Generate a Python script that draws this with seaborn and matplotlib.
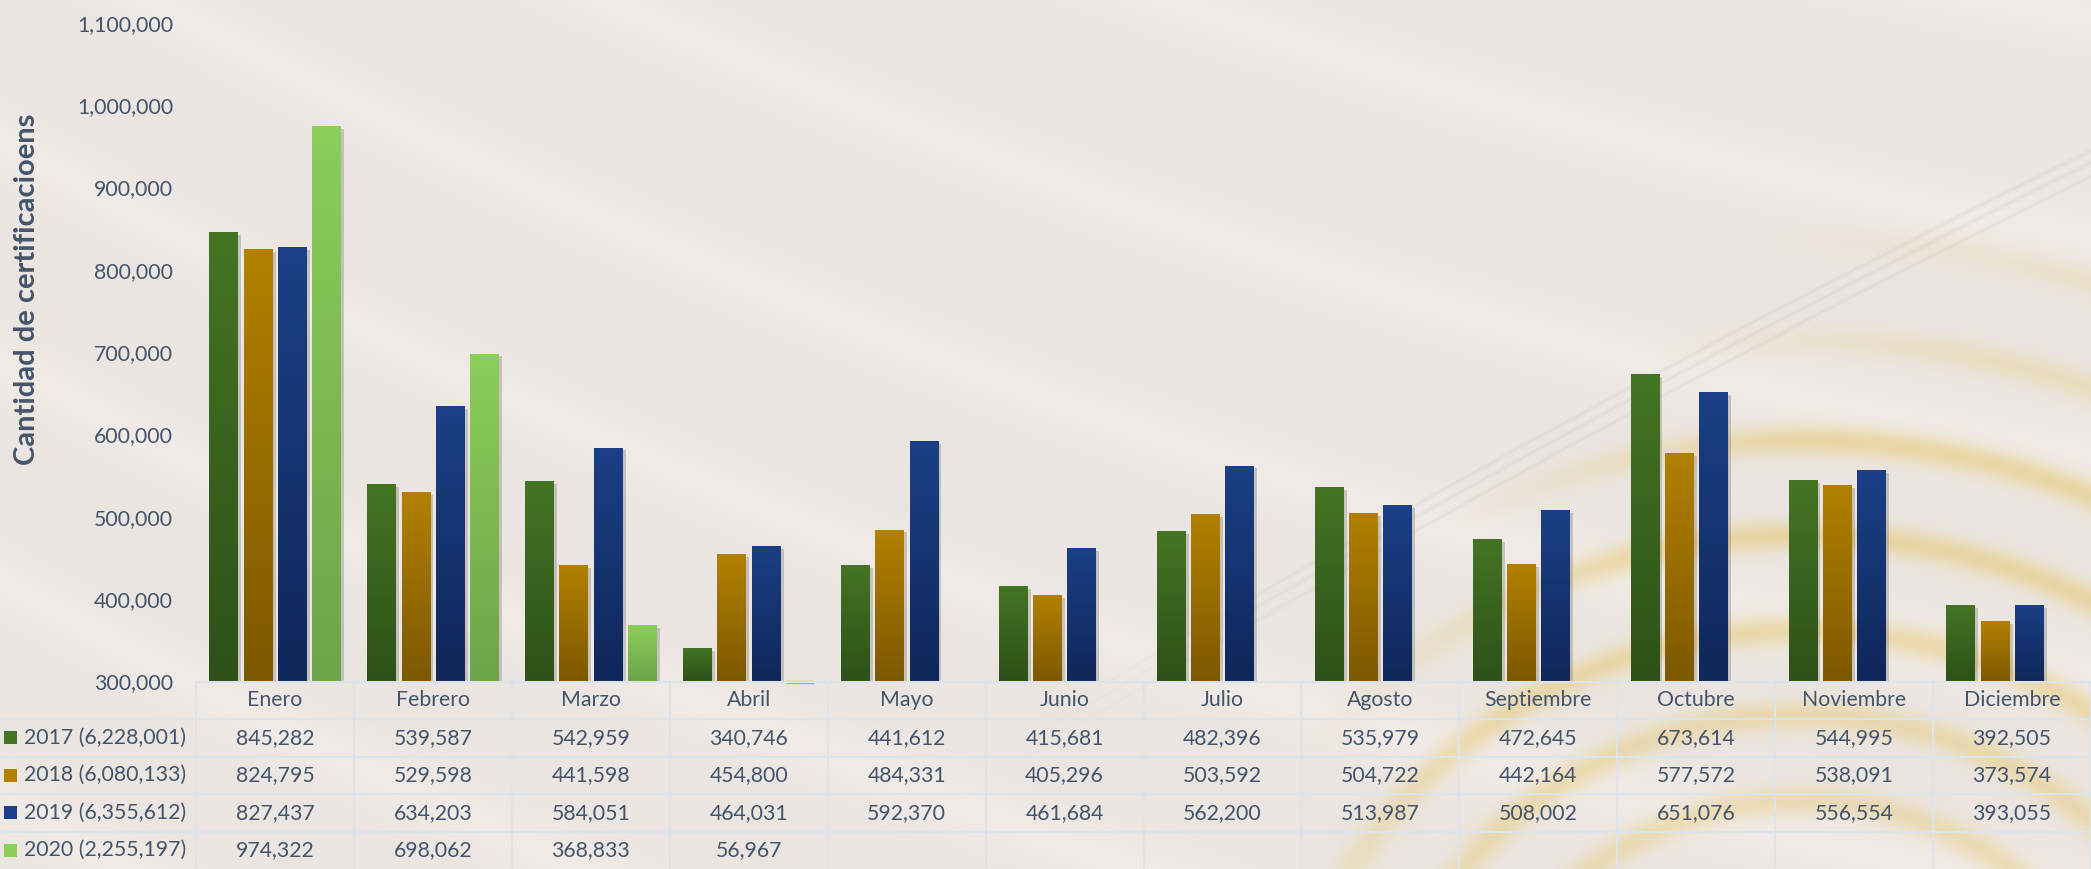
import numpy as np
import pandas as pd
import seaborn as sns
import matplotlib.pyplot as plt
from matplotlib import patheffects as pe
from matplotlib.colors import LinearSegmentedColormap
from matplotlib.patches import Rectangle
from matplotlib.transforms import blended_transform_factory

# datos
meses = ["Enero", "Febrero", "Marzo", "Abril", "Mayo", "Junio", "Julio",
         "Agosto", "Septiembre", "Octubre", "Noviembre", "Diciembre"]
anios = ["2017", "2018", "2019", "2020"]
totales = ["6,228,001", "6,080,133", "6,355,612", "2,255,197"]
v2017 = [845282, 539587, 542959, 340746, 441612, 415681, 482396, 535979, 472645, 673614, 544995, 392505]
v2018 = [824795, 529598, 441598, 454800, 484331, 405296, 503592, 504722, 442164, 577572, 538091, 373574]
v2019 = [827437, 634203, 584051, 464031, 592370, 461684, 562200, 513987, 508002, 651076, 556554, 393055]
v2020 = [974322, 698062, 368833, 56967]
yticks = list(range(300000, 1100001, 100000))

# colores (arriba, abajo) del degradado
colores = {"2017": ("#447524", "#2d5118"),
           "2018": ("#b38100", "#7c5800"),
           "2019": ("#1b4086", "#0f275a"),
           "2020": ("#8bce5a", "#6ea449")}
texto = "#44546a"
linea = "#dce3ea"

sns.set_style("white")
plt.rcParams["font.family"] = ["Lato", "DejaVu Sans"]

W, H = 2091, 869
fig = plt.figure(figsize=(W / 100, H / 100), dpi=100)

# fondo beige con franjas claras y curvas doradas
bg = fig.add_axes([0, 0, 1, 1], zorder=0)
yy, xx = np.mgrid[0:H, 0:W].astype(float)
img = np.ones((H, W, 3)) * np.array([234, 229, 225]) / 255
luz = np.zeros((H, W))
for b in [-740, -520, -300, -80, 140, 360, 580, 800]:
    yc = b + 0.55 * xx - 0.00009 * xx ** 2
    luz += np.exp(-((yy - yc) / 38) ** 2)
img = img + 0.022 * np.clip(luz, 0, 1)[..., None]
# curvas doradas abajo a la derecha
oro = np.zeros((H, W))
d = np.sqrt(((xx - 1800) / 1.1) ** 2 + (yy - 1100) ** 2)
for r, a, x_ini in [(860, 0.25, 1750), (760, 0.35, 1650), (660, 0.6, 1450),
                    (565, 0.6, 1300), (470, 0.55, 1150), (385, 0.5, 1150), (300, 0.45, 1150)]:
    oro += a * np.exp(-((d - r) / 15) ** 2) * np.clip((xx - x_ini) / 350, 0, 1)
oro = np.clip(oro, 0, 0.65)
dorado = np.array([232, 203, 125]) / 255
img = img * (1 - oro[..., None]) + dorado * oro[..., None]
# lineas grises finas
gris = np.zeros((H, W))
for off in [0, 12, 26]:
    yc = 297 + off - 0.52 * (xx - 1800) + 0.00005 * (xx - 1800) ** 2
    gris += np.exp(-((yy - yc) / 2.0) ** 2)
gris = np.clip(gris, 0, 1) * np.clip((xx - 1000) / 350, 0, 1) * 0.10
img = img * (1 - gris[..., None]) + 0.55 * gris[..., None]
bg.imshow(np.clip(img, 0, 1), extent=[0, W, H, 0], aspect="auto")
bg.axis("off")

# grafico de barras
ax = fig.add_axes([196 / W, (H - 681.5) / H, (W - 196) / W, (681.5 - 22.7) / H], zorder=2)
ax.set_facecolor("none")

filas = []
for anio, vals in zip(anios, [v2017, v2018, v2019, v2020]):
    for mes, v in zip(meses, vals):
        filas.append({"mes": mes, "anio": anio, "valor": v})
df = pd.DataFrame(filas)

sns.barplot(data=df, x="mes", y="valor", hue="anio", order=meses, hue_order=anios,
            palette=[colores[a][0] for a in anios], width=0.868, gap=0.17,
            errorbar=None, saturation=1, legend=False, linewidth=0, ax=ax, zorder=2)

ymin, ymax = 300000, 1100000
grad = np.linspace(0, 1, 256).reshape(-1, 1)
sombra = [pe.SimplePatchShadow(offset=(2.5, -2), shadow_rgbFace="#6f6a66", alpha=0.3), pe.Normal()]
for cont, anio in zip(ax.containers, anios):
    top, bot = colores[anio]
    cmap = LinearSegmentedColormap.from_list("g" + anio, [bot, top])
    for bar in cont:
        h = bar.get_height()
        x0, w = bar.get_x(), bar.get_width()
        if np.isnan(h):
            continue
        if h <= ymin:
            ax.hlines(ymin, x0, x0 + w, color=top, lw=2.5, zorder=3, clip_on=False)
            continue
        bar.set_edgecolor("none")
        bar.set_path_effects(sombra)
        im = ax.imshow(grad, extent=[x0, x0 + w, ymin, h], origin="lower",
                       aspect="auto", cmap=cmap, zorder=2.5)
        im.set_clip_path(bar)

ax.set_xlim(-0.5, 11.5)
ax.set_ylim(ymin, ymax)
ax.set_yticks(yticks)
ax.set_yticklabels([f"{t:,}" for t in yticks])
ax.set_xticks([])
ax.set_xlabel("")
ax.set_ylabel("")
ax.tick_params(axis="y", length=0, pad=16.5, labelsize=15.3, labelcolor=texto)
sns.despine(ax=ax, left=True, bottom=True)

fig.text(27 / W, 1 - 289 / H, "Cantidad de certificacioens", rotation=90,
         ha="center", va="center", fontsize=21, fontweight="bold", color=texto)

# tabla de datos
tb = fig.add_axes([196 / W, 0, (W - 196) / W, 187.5 / H], zorder=3)
tb.set_xlim(-0.5, 11.5)
tb.set_ylim(5, 0)
tb.axis("off")
mix = blended_transform_factory(fig.transFigure, tb.transData)

for k in range(13):
    tb.vlines(k - 0.5, 0, 5, color=linea, lw=1.5, clip_on=False)
tb.hlines(0, -0.5, 11.5, color=linea, lw=1.5, clip_on=False)
for r in range(1, 5):
    tb.plot([0, 1], [r, r], transform=mix, color=linea, lw=1.5, clip_on=False)

for i, mes in enumerate(meses):
    tb.text(i, 0.5, mes, ha="center", va="center", fontsize=15.3, color=texto)

for r, (anio, total, vals) in enumerate(zip(anios, totales, [v2017, v2018, v2019, v2020]), start=1):
    for i, v in enumerate(vals):
        tb.text(i, r + 0.5, f"{v:,}", ha="center", va="center", fontsize=15.3, color=texto)
    tb.add_patch(Rectangle((4 / W, r + 0.5 - 0.175), 13 / W, 0.35, transform=mix,
                           facecolor=colores[anio][0], edgecolor="none", clip_on=False))
    tb.text(24 / W, r + 0.5, f"{anio} ({total})", transform=mix, ha="left", va="center",
            fontsize=15.3, color=texto)

fig.savefig("out.png", dpi=100)
